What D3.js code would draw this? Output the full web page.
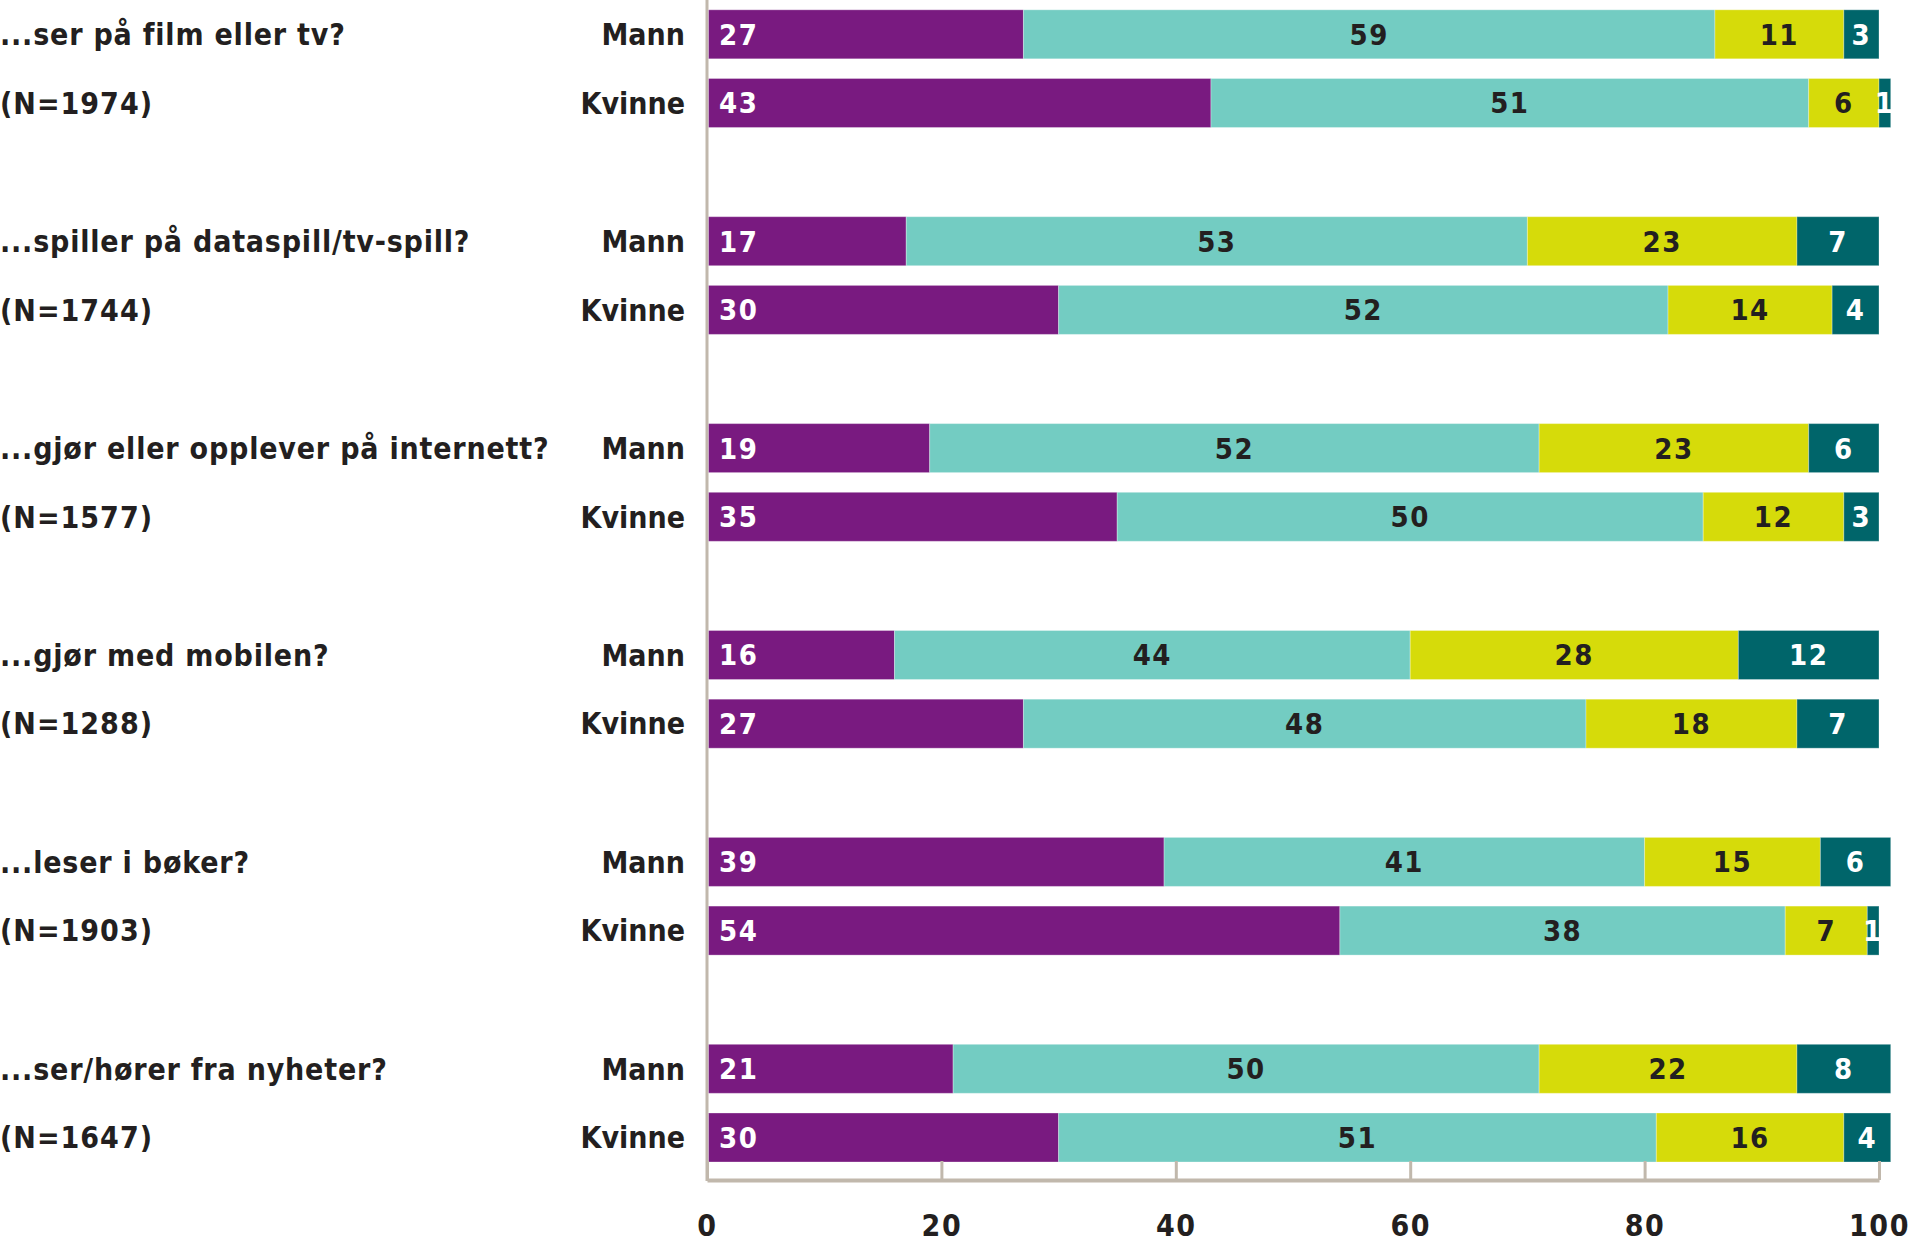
<!DOCTYPE html>
<html><head><meta charset="utf-8">
<script src="https://cdn.jsdelivr.net/npm/d3@7"></script>
<style>body{margin:0;background:#fff}</style>
</head><body>
<svg id="c" width="1924" height="1249"></svg>
<script>
const questions = ["...ser på film eller tv?","...spiller på dataspill/tv-spill?","...gjør eller opplever på internett?","...gjør med mobilen?","...leser i bøker?","...ser/hører fra nyheter?"];
const nLabels = ["(N=1974)","(N=1744)","(N=1577)","(N=1288)","(N=1903)","(N=1647)"];
const genders = ["Mann","Kvinne"];
const seriesColors = ["#791a80","#73ccc2","#d6db0a","#00656a"];
const seriesTextColors = ["#ffffff","#231f20","#231f20","#ffffff"];
const mannValues = [[27,59,11,3],[17,53,23,7],[19,52,23,6],[16,44,28,12],[39,41,15,6],[21,50,22,8]];
const kvinneValues = [[43,51,6,1],[30,52,14,4],[35,50,12,3],[27,48,18,7],[54,38,7,1],[30,51,16,4]];
const tickValues = [0,20,40,60,80,100];

const font = "'DejaVu Sans Condensed', sans-serif";
const svg = d3.select("#c");
svg.append("rect").attr("width",1924).attr("height",1249).attr("fill","#fff");

const x = d3.scaleLinear().domain([0,100]).range([707,1879]);
const yGroup = d3.scaleBand().domain(questions).range([9.8, 9.8 + 6*206.9]).padding(0);
const yInner = d3.scaleBand().domain(genders).range([0, 68.7+49]).paddingInner(0.2867).paddingOuter(0);

const rows = [];
questions.forEach((q,qi)=>{
  genders.forEach(g=>{
    const vals = g==="Mann" ? mannValues[qi] : kvinneValues[qi];
    let acc = 0;
    const segs = vals.map((v,i)=>{const s={x0:acc,x1:acc+v,v,i}; acc+=v; return s;});
    rows.push({q,g,y:yGroup(q)+yInner(g),segs});
  });
});

const axisColor = "#c1b8ac";
svg.append("line").attr("x1",x(0)).attr("x2",x(0)).attr("y1",0).attr("y2",1181)
  .attr("stroke",axisColor).attr("stroke-width",3);

const bh = yInner.bandwidth();
const rowG = svg.selectAll("g.row").data(rows).join("g").attr("class","row")
  .attr("transform",d=>`translate(0,${d.y})`);
rowG.selectAll("rect").data(d=>d.segs).join("rect")
  .attr("x",d=>x(d.x0)+(d.i===0?1.5:0)).attr("width",d=>x(d.x1)-x(d.x0)-(d.i===0?1.5:0))
  .attr("y",0).attr("height",bh)
  .attr("fill",d=>seriesColors[d.i])
  .attr("stroke","#ffffff").attr("stroke-opacity",0.3).attr("stroke-width",1);
rowG.selectAll("text").data(d=>d.segs).join("text")
  .attr("x",d=>d.i===0 ? x(d.x0)+12 : (x(d.x0)+x(d.x1))/2)
  .attr("text-anchor",d=>d.i===0?"start":"middle")
  .attr("y",bh/2).attr("dy","0.36em")
  .attr("fill",d=>seriesTextColors[d.i])
  .style("font-family",font).style("font-weight","bold").style("font-size","29px")
  .style("letter-spacing","1.5px")
  .text(d=>d.v);

rowG.append("text").attr("x",685).attr("y",bh/2).attr("dy","0.36em")
  .attr("text-anchor","end").attr("fill","#231f20")
  .style("font-family",font).style("font-weight","bold").style("font-size","30px")
  .text(d=>d.g);

questions.forEach((q,qi)=>{
  svg.append("text").attr("x",0).attr("y",yGroup(q)+yInner("Mann")+bh/2).attr("dy","0.36em")
    .attr("fill","#231f20").style("font-family",font).style("font-weight","bold").style("font-size","30px")
    .style("letter-spacing","0.8px")
    .text(q);
  svg.append("text").attr("x",0).attr("y",yGroup(q)+yInner("Kvinne")+bh/2).attr("dy","0.36em")
    .attr("fill","#231f20").style("font-family",font).style("font-weight","bold").style("font-size","30px")
    .style("letter-spacing","1px")
    .text(nLabels[qi]);
});

const axisY = 1180;
const ax = svg.append("g").attr("transform",`translate(0,${axisY})`)
  .call(d3.axisBottom(x).tickValues(tickValues).tickSize(0).tickPadding(35));
ax.select(".domain").attr("stroke",axisColor).attr("stroke-width",4);
ax.selectAll(".tick text").attr("fill","#231f20")
  .style("font-family",font).style("font-weight","bold").style("font-size","30px")
  .style("letter-spacing","1.5px");
ax.selectAll(".tick").append("line").attr("y1",0).attr("y2",-19)
  .attr("stroke",axisColor).attr("stroke-width",3);
</script>
</body></html>
